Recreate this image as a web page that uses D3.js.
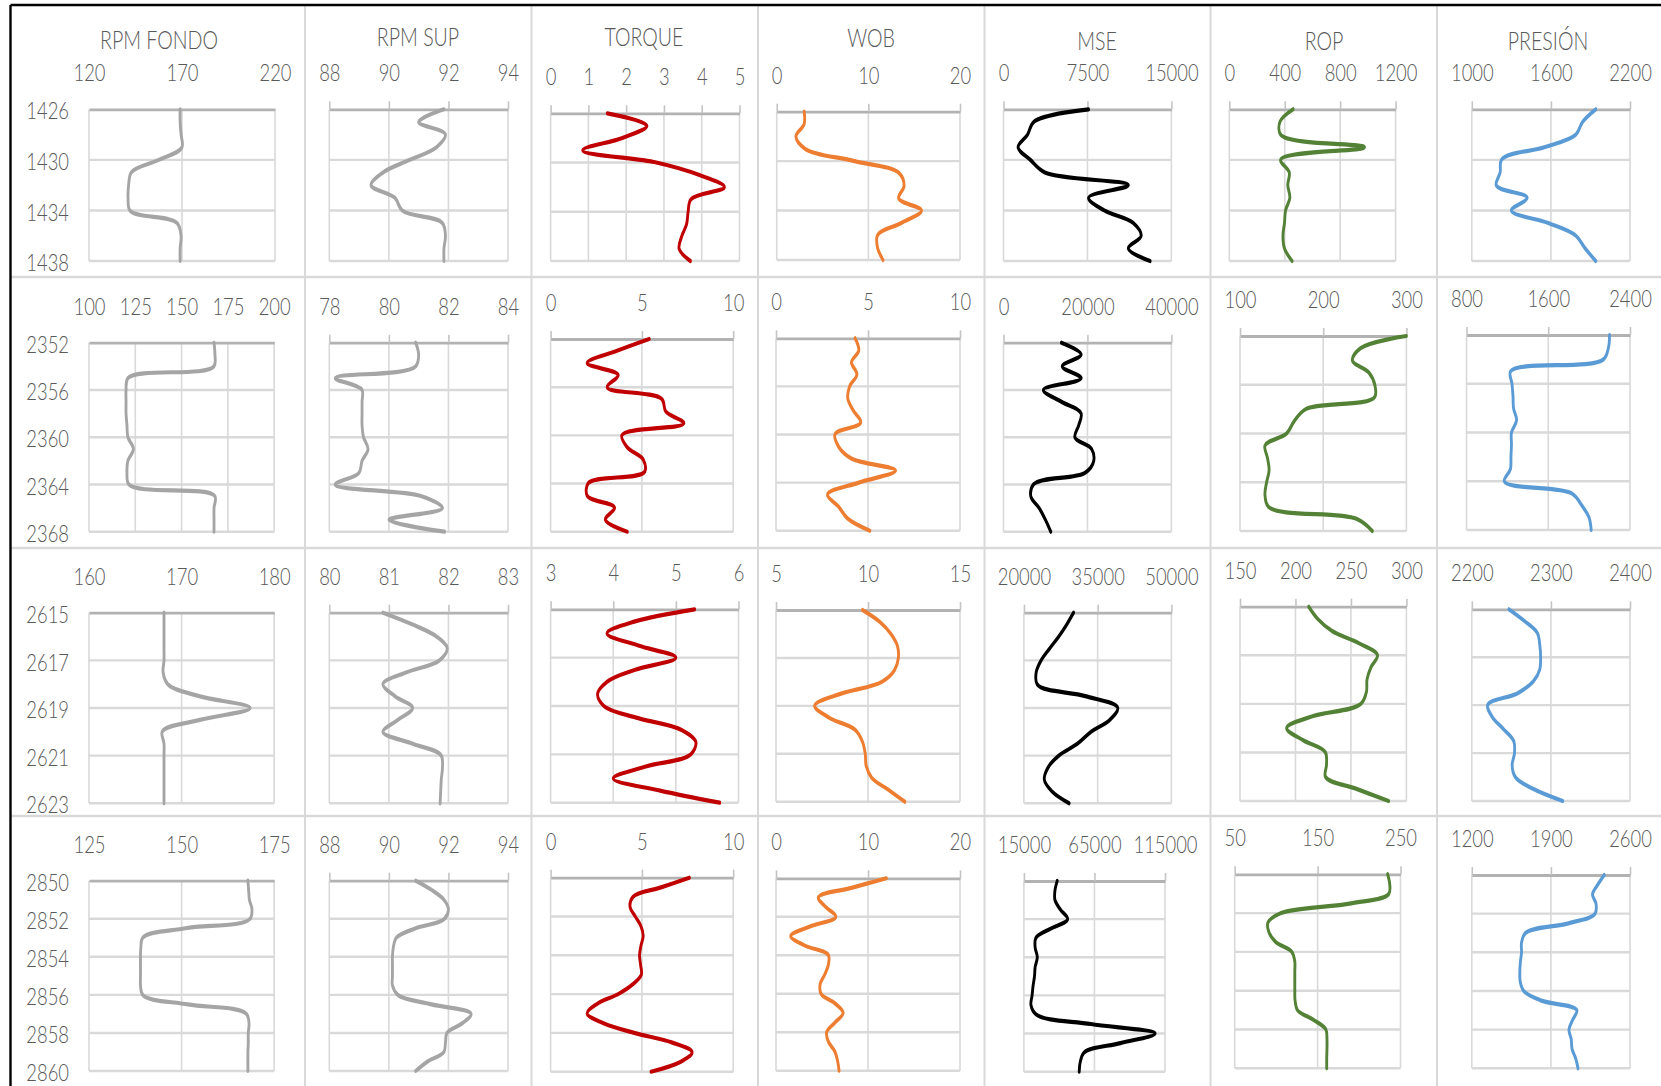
<!DOCTYPE html>
<html>
<head>
<meta charset="utf-8">
<script src="https://cdn.jsdelivr.net/npm/d3@7"></script>
<style>
  html, body { margin: 0; padding: 0; background: #ffffff; }
  svg { display: block; }
  text { font-family: Lato, "Liberation Sans", sans-serif; font-weight: 300; fill: #595959; }
</style>
</head>
<body>
<svg id="chart" width="1661" height="1086"></svg>
<script>
// ---------- data ----------
const tracks = ["RPM FONDO", "RPM SUP", "TORQUE", "WOB", "MSE", "ROP", "PRESIÓN"];

// Interval 1: 1426 - 1438
const depth1 = [1426, 1427, 1428, 1429, 1430, 1431, 1432, 1433, 1434, 1435, 1436, 1437, 1438];
const depthTicks1 = [1426, 1430, 1434, 1438];
const rpmFondo1 = [169, 169, 169.5, 170, 157.5, 142.7, 141.3, 141, 142, 167.4, 169.5, 169, 169];
const rpmSup1 = [91.85, 91.0, 91.9, 91.6, 90.7, 89.8, 89.4, 90.2, 90.45, 91.8, 91.9, 91.85, 91.85];
const torque1 = [1.5, 2.55, 1.9, 0.85, 2.8, 3.92, 4.6, 3.71, 3.64, 3.6, 3.47, 3.4, 3.7];
const wob1 = [3.0, 3.0, 2.1, 3.1, 8.5, 13.4, 13.9, 13.3, 15.8, 13.6, 11.0, 11.0, 11.6];
const mse1 = [7600, 2700, 2150, 1300, 2400, 3700, 11150, 7600, 9000, 11600, 12300, 11150, 13100];
const rop1 = [460, 365, 370, 975, 370, 433, 422, 437, 406, 398, 387, 398, 453];
const presion1 = [1940, 1840, 1790, 1550, 1225, 1215, 1185, 1420, 1300, 1580, 1790, 1860, 1940];
const xTicks1 = [[120, 170, 220], [88, 90, 92, 94], [0, 1, 2, 3, 4, 5], [0, 10, 20], [0, 7500, 15000], [0, 400, 800, 1200], [1000, 1600, 2200]];

// Interval 2: 2352 - 2368
const depth2 = [2352, 2353, 2354, 2355, 2356, 2357, 2358, 2359, 2360, 2361, 2362, 2363, 2364, 2365, 2366, 2367, 2368];
const depthTicks2 = [2352, 2356, 2360, 2364, 2368];
const rpmFondo2 = [167.5, 168, 167.5, 121, 120, 120, 120, 120.5, 121, 124, 121, 120.5, 121.5, 168, 167.5, 167.5, 167.5];
const rpmSup2 = [80.9, 81.0, 80.9, 78.2, 79.1, 79.1, 79.1, 79.1, 79.15, 79.3, 79.1, 79.0, 78.2, 81.1, 81.8, 80.0, 81.87];
const torque2 = [5.4, 3.6, 2.0, 3.7, 3.1, 6.1, 6.3, 7.3, 3.9, 4.2, 5.07, 5.16, 2.05, 2.0, 3.5, 3.0, 4.2];
const wob2 = [4.3, 4.5, 4.1, 4.4, 4.0, 3.9, 4.2, 4.6, 3.2, 3.4, 4.1, 6.5, 4.5, 2.8, 3.4, 3.9, 5.1];
const mse2 = [13800, 18500, 14000, 18500, 9500, 13800, 18500, 17900, 17000, 21000, 21500, 19500, 7150, 6500, 8500, 10000, 11250];
const rop2 = [300, 245, 235, 255, 262, 262, 179, 165, 156, 130, 133, 135, 132, 130, 134, 240, 259];
const presion2 = [2200, 2190, 2140, 1230, 1245, 1255, 1260, 1290, 1240, 1240, 1235, 1230, 1170, 1830, 1930, 2000, 2020];
const xTicks2 = [[100, 125, 150, 175, 200], [78, 80, 82, 84], [0, 5, 10], [0, 5, 10], [0, 20000, 40000], [100, 200, 300], [800, 1600, 2400]];

// Interval 3: 2615 - 2623
const depth3 = [2615, 2615.5, 2616, 2616.5, 2617, 2617.5, 2618, 2618.5, 2619, 2619.5, 2620, 2620.5, 2621, 2621.5, 2622, 2622.5, 2623];
const depthTicks3 = [2615, 2617, 2619, 2621, 2623];
const rpmFondo3 = [168.1, 168.1, 168.1, 168.1, 168.1, 168.0, 168.5, 171.9, 177.4, 172, 167.9, 168.1, 168.1, 168.1, 168.1, 168.1, 168.1];
const rpmSup3 = [80.9, 81.4, 81.8, 81.98, 81.85, 81.3, 80.9, 81.1, 81.4, 81.15, 80.9, 81.4, 81.88, 81.9, 81.88, 81.87, 81.86];
const torque3 = [5.3, 4.35, 3.9, 4.4, 5.0, 4.35, 3.9, 3.75, 3.85, 4.4, 5.1, 5.32, 5.24, 4.52, 4.0, 4.75, 5.7];
const wob3 = [9.7, 10.65, 11.25, 11.6, 11.65, 11.45, 10.75, 8.5, 7.1, 7.9, 9.3, 9.7, 9.85, 9.9, 10.2, 11.1, 12.0];
const mse3 = [30100, 28700, 27100, 25240, 23500, 22500, 22700, 32500, 39100, 37450, 33640, 30900, 27100, 24900, 24150, 25700, 29200];
const rop3 = [212, 220, 233, 257, 274, 268, 264.5, 264, 259, 216, 192, 207, 227, 228, 227, 255, 284];
const presion3 = [2247, 2267, 2283, 2286, 2287, 2286, 2278, 2258, 2220, 2226, 2240, 2253, 2254, 2251, 2255, 2278, 2315];
const xTicks3 = [[160, 170, 180], [80, 81, 82, 83], [3, 4, 5, 6], [5, 10, 15], [20000, 35000, 50000], [150, 200, 250, 300], [2200, 2300, 2400]];

// Interval 4: 2850 - 2860
const depth4 = [2850, 2850.5, 2851, 2851.5, 2852, 2852.5, 2853, 2853.5, 2854, 2854.5, 2855, 2855.5, 2856, 2856.5, 2857, 2857.5, 2858, 2858.5, 2859, 2859.5, 2860];
const depthTicks4 = [2850, 2852, 2854, 2856, 2858, 2860];
const rpmFondo4 = [167.9, 168.1, 168.3, 169, 168.5, 151, 139.5, 139, 138.9, 138.9, 138.9, 138.9, 139.5, 151.7, 167.5, 168.2, 168, 168, 167.9, 167.9, 167.9];
const rpmSup4 = [90.9, 91.45, 91.85, 92.0, 91.87, 90.9, 90.25, 90.15, 90.12, 90.12, 90.12, 90.12, 90.3, 91.43, 92.76, 92.46, 91.95, 91.9, 91.85, 91.3, 90.9];
const torque4 = [7.6, 6.05, 4.5, 4.35, 4.64, 4.95, 5.07, 4.95, 4.87, 4.93, 4.97, 4.49, 3.7, 2.55, 2.0, 2.9, 4.58, 6.67, 7.75, 7.1, 5.5];
const wob4 = [12.0, 8.2, 4.6, 5.43, 6.5, 3.7, 1.6, 3.15, 5.7, 5.69, 5.3, 4.8, 4.89, 6.41, 7.3, 6.4, 5.5, 5.7, 6.4, 6.7, 6.85];
const mse4 = [38600, 37000, 37000, 40900, 46000, 34000, 23400, 23000, 24500, 23000, 22500, 21500, 20800, 20000, 23700, 62500, 108000, 83400, 57600, 54900, 54200];
const rop4 = [234.5, 237, 236, 190.5, 106, 90, 91.4, 99.8, 119, 122.5, 122.5, 122.5, 122.5, 122.8, 125.7, 145, 160, 161.3, 161.3, 161, 161];
const presion4 = [2372, 2315, 2268, 2300, 2291, 2054, 1675, 1640, 1640, 1630, 1625, 1628, 1660, 1817, 2130, 2092, 2060, 2080, 2087, 2120, 2140];
const xTicks4 = [[125, 150, 175], [88, 90, 92, 94], [0, 5, 10], [0, 10, 20], [15000, 65000, 115000], [50, 150, 250], [1200, 1900, 2600]];

// ---------- layout & style ----------
const W = 1661, H = 1086;
const trackColors = ["#a5a5a5", "#a5a5a5", "#c00000", "#ed7d31", "#000000", "#538135", "#5b9bd5"];
const colSeps = [305, 531.5, 758, 984.5, 1210.5, 1437];
const rowSeps = [277, 548, 816];
const titleX = [159, 418, 644, 871, 1097, 1324, 1548];
const titleY = [49.5, 46.5, 46.5, 47, 50.5, 50.5, 50];
// plot boxes [left, right, top, bottom] for each row / track
const boxes = [
  [[89, 275, 109.3, 261], [329.3, 508, 109.3, 261], [550.6, 739.5, 113.3, 261], [776.7, 960, 111.7, 260], [1003.5, 1171.4, 109.3, 261], [1229.3, 1395.6, 109.3, 261], [1471.8, 1630, 109.3, 261]],
  [[89, 274.2, 342.7, 531.7], [329.3, 508, 342.7, 531.7], [550.6, 733.2, 339, 531.7], [776, 960, 338.3, 530.7], [1003.5, 1171.4, 342.7, 531.7], [1240, 1406.4, 336, 531], [1466.5, 1630, 335, 530]],
  [[89, 274.2, 612.7, 803.3], [329.3, 508, 612.7, 803.3], [550.6, 738.5, 609.3, 802.7], [776, 960, 610, 801.7], [1023.9, 1171.4, 612.7, 803.3], [1240, 1406.4, 606.7, 801], [1471.8, 1630, 609.3, 801]],
  [[89, 274.2, 880.7, 1071], [329.3, 508, 880.7, 1071], [550.6, 733.2, 877.7, 1071.7], [776, 960, 878.3, 1070.7], [1023.9, 1165, 881, 1071.7], [1234.7, 1400.5, 874.3, 1068.3], [1471.8, 1630, 875, 1068.3]]
];
// curves are stroked in a horizontally squeezed frame so near-vertical strokes come out thinner
const SQUEEZE = 0.68;
// all lettering is condensed horizontally by this factor
const TEXT_SQUEEZE = 0.8;

const rows = [
  { depths: depth1, depthTicks: depthTicks1, xTicks: xTicks1, values: [rpmFondo1, rpmSup1, torque1, wob1, mse1, rop1, presion1] },
  { depths: depth2, depthTicks: depthTicks2, xTicks: xTicks2, values: [rpmFondo2, rpmSup2, torque2, wob2, mse2, rop2, presion2] },
  { depths: depth3, depthTicks: depthTicks3, xTicks: xTicks3, values: [rpmFondo3, rpmSup3, torque3, wob3, mse3, rop3, presion3] },
  { depths: depth4, depthTicks: depthTicks4, xTicks: xTicks4, values: [rpmFondo4, rpmSup4, torque4, wob4, mse4, rop4, presion4] }
];

// ---------- drawing ----------
const svg = d3.select("#chart");
svg.append("rect").attr("width", W).attr("height", H).attr("fill", "#ffffff");

// cell separators
const sepG = svg.append("g").attr("stroke", "#d9d9d9");
sepG.selectAll("line.cs").data(colSeps).join("line")
  .attr("x1", d => d).attr("x2", d => d).attr("y1", 6).attr("y2", H)
  .attr("stroke-width", 2);
sepG.selectAll("line.rs").data(rowSeps).join("line")
  .attr("x1", 10).attr("x2", W).attr("y1", d => d).attr("y2", d => d)
  .attr("stroke-width", 2.6);

// outer frame (top and left edges)
svg.append("line").attr("x1", 10.5).attr("x2", W).attr("y1", 5).attr("y2", 5)
  .attr("stroke", "#000").attr("stroke-width", 2.6);
svg.append("line").attr("x1", 10.5).attr("x2", 10.5).attr("y1", 5).attr("y2", H)
  .attr("stroke", "#000").attr("stroke-width", 2.4);

// track titles
svg.selectAll("text.title").data(tracks).join("text")
  .attr("class", "title")
  .attr("x", (d, i) => titleX[i]).attr("y", (d, i) => titleY[i])
  .attr("text-anchor", "middle")
  .attr("font-size", 24.5)
  .text(d => d);

rows.forEach((row, r) => {
  const yDomain = d3.extent(row.depthTicks);
  row.values.forEach((vals, c) => {
    const [L, R, T, B] = boxes[r][c];
    const ticks = row.xTicks[c];
    const x = d3.scaleLinear().domain(d3.extent(ticks)).range([L, R]);
    const y = d3.scaleLinear().domain(yDomain).range([T, B]);
    const g = svg.append("g");

    // depth grid
    g.selectAll("line.h").data(row.depthTicks.slice(1)).join("line")
      .attr("x1", L).attr("x2", R)
      .attr("y1", d => y(d)).attr("y2", d => y(d))
      .attr("stroke", "#d9d9d9").attr("stroke-width", 2.4);
    // value grid
    g.selectAll("line.v").data(ticks).join("line")
      .attr("x1", d => x(d)).attr("x2", d => x(d))
      .attr("y1", T).attr("y2", B)
      .attr("stroke", "#d9d9d9").attr("stroke-width", 1.6);

    // value axis on top
    const outerTick = c === 0 ? 0 : 8;
    const axis = d3.axisTop(x).tickValues(ticks)
      .tickSizeInner(outerTick).tickSizeOuter(0)
      .tickPadding(28 - outerTick)
      .tickFormat(d3.format("d"));
    const ag = g.append("g").attr("transform", `translate(0,${T})`).call(axis);
    ag.attr("font-family", null);
    ag.select(".domain").attr("stroke", "#b2b2b2").attr("stroke-width", 2.8);
    ag.selectAll(".tick line").attr("stroke", "#c4c4c4").attr("stroke-width", 1.6);
    ag.selectAll(".tick text").attr("font-size", 23);

    // depth axis on the first track
    if (c === 0) {
      const dAxis = d3.axisLeft(y).tickValues(row.depthTicks)
        .tickSize(0).tickPadding(20).tickFormat(d3.format("d"));
      const dg = g.append("g").attr("transform", `translate(${L},0)`).call(dAxis);
      dg.attr("font-family", null);
      dg.select(".domain").remove();
      dg.selectAll(".tick text").attr("font-size", 23).attr("dy", "0.42em");
    }

    // log curve
    const xs = d3.scaleLinear().domain(x.domain()).range([0, (R - L) / SQUEEZE]);
    const line = d3.line()
      .x(d => xs(d))
      .y((d, i) => y(row.depths[i]))
      .curve(d3.curveCatmullRom.alpha(0.5));
    g.append("g")
      .attr("transform", `translate(${L},0) scale(${SQUEEZE},1)`)
      .append("path")
      .datum(vals)
      .attr("d", line)
      .attr("fill", "none")
      .attr("stroke", trackColors[c])
      .attr("stroke-width", 4.2)
      .attr("stroke-linejoin", "round")
      .attr("stroke-linecap", "round");
  });
});

// condense every label horizontally around its own anchor point
svg.selectAll("text").each(function () {
  const ax = +this.getAttribute("x") || 0;
  this.setAttribute("transform", `translate(${ax},0) scale(${TEXT_SQUEEZE},1) translate(${-ax},0)`);
});
</script>
</body>
</html>
